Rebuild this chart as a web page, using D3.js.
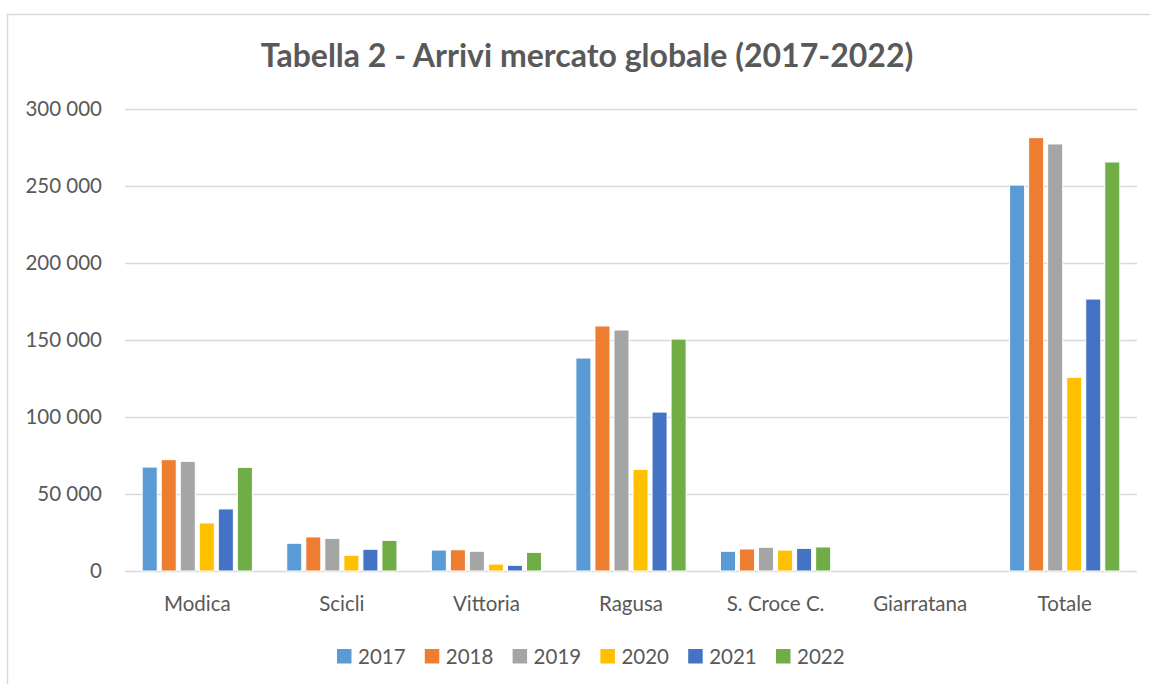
<!DOCTYPE html>
<html>
<head>
<meta charset="utf-8">
<script src="https://cdn.jsdelivr.net/npm/d3@7"></script>
<style>
  html, body { margin: 0; padding: 0; background: #fff; }
  svg { display: block; }
  text { font-family: Lato, "Open Sans", "Liberation Sans", sans-serif; fill: #595959; }
</style>
</head>
<body>
<svg id="chart" width="1150" height="684"></svg>
<script>
const categories = ["Modica", "Scicli", "Vittoria", "Ragusa", "S. Croce C.", "Giarratana", "Totale"];
const years = ["2017", "2018", "2019", "2020", "2021", "2022"];
const v2017 = [67500, 18000, 13600, 138300, 12800, 0, 250600];
const v2018 = [72300, 22100, 13800, 159100, 14300, 0, 281400];
const v2019 = [71200, 21200, 12800, 156500, 15400, 0, 277300];
const v2020 = [31200, 10200, 4500, 66000, 13600, 0, 125800];
const v2021 = [40300, 14100, 3700, 103200, 14700, 0, 176600];
const v2022 = [67300, 19900, 12100, 150600, 15600, 0, 265600];
const seriesValues = [v2017, v2018, v2019, v2020, v2021, v2022];
const yTicks = [0, 50000, 100000, 150000, 200000, 250000, 300000];
const colors = ["#5B9BD5", "#ED7D31", "#A5A5A5", "#FFC000", "#4472C4", "#70AD47"];
const title = "Tabella 2 - Arrivi mercato globale (2017-2022)";

const svg = d3.select("#chart");
const FS = 20.5;

// outer border
svg.append("path")
  .attr("d", "M7.5,684 L7.5,14.5 L1150,14.5")
  .attr("fill", "none").attr("stroke", "#d9d9d9").attr("stroke-width", 1.5);

const plot = { left: 125, right: 1137, top: 109, bottom: 571 };

const y = d3.scaleLinear().domain([0, 300000]).range([plot.bottom, plot.top]);
const x0 = d3.scaleBand().domain(categories).range([plot.left, plot.right])
  .paddingInner(0.21).paddingOuter(0.105);
const x1 = d3.scaleBand().domain(years).range([0, x0.bandwidth()])
  .paddingInner(0.21).paddingOuter(0.105);

// gridlines
svg.append("g").selectAll("line").data(yTicks).join("line")
  .attr("x1", plot.left).attr("x2", plot.right)
  .attr("y1", d => Math.round(y(d)) + 0.5).attr("y2", d => Math.round(y(d)) + 0.5)
  .attr("stroke", "#d9d9d9").attr("stroke-width", 1.5);

// y axis labels
const fmt = d => d3.format(",")(d).replace(/,/g, " ");
const yAxis = d3.axisLeft(y).tickValues(yTicks).tickFormat(fmt).tickSize(0).tickPadding(0);
const ya = svg.append("g").attr("transform", "translate(102,0)").call(yAxis);
ya.select(".domain").remove();
ya.selectAll("text").attr("font-size", FS).attr("fill", "#595959")
  .style("font-family", "Lato, 'Open Sans', sans-serif");

// bars
const data = [];
categories.forEach((c, i) => years.forEach((yr, j) => data.push({ c, yr, j, v: seriesValues[j][i] })));
svg.append("g").selectAll("rect").data(data.filter(d => d.v > 0)).join("rect")
  .attr("x", d => x0(d.c) + x1(d.yr))
  .attr("width", x1.bandwidth())
  .attr("y", d => y(d.v))
  .attr("height", d => y(0) - y(d.v))
  .attr("fill", d => colors[d.j])
  .attr("stroke", "#fff").attr("stroke-width", 1);

// x axis labels
const xAxis = d3.axisBottom(x0).tickSize(0).tickPadding(0);
const xa = svg.append("g").attr("transform", `translate(0,${plot.bottom + 25})`).call(xAxis);
xa.select(".domain").remove();
xa.selectAll("text").attr("font-size", FS).attr("fill", "#595959").attr("dy", "0.71em")
  .style("font-family", "Lato, 'Open Sans', sans-serif");

// title
const t = svg.append("text").text(title)
  .attr("x", 587).attr("y", 67).attr("text-anchor", "middle")
  .attr("font-weight", "bold").attr("font-size", 28).attr("fill", "#595959");
const tw = t.node().getComputedTextLength();
t.attr("font-size", 28 * 653 / tw);

// legend
const legendX = d3.scalePoint().domain(years).range([337, 776]);
const lg = svg.append("g").selectAll("g").data(years).join("g")
  .attr("transform", d => `translate(${legendX(d)},0)`);
lg.append("rect").attr("x", 0).attr("y", 649).attr("width", 14.5).attr("height", 14.5)
  .attr("fill", (d, i) => colors[i]);
lg.append("text").attr("x", 21).attr("y", 664).attr("font-size", FS).text(d => d);
</script>
</body>
</html>
